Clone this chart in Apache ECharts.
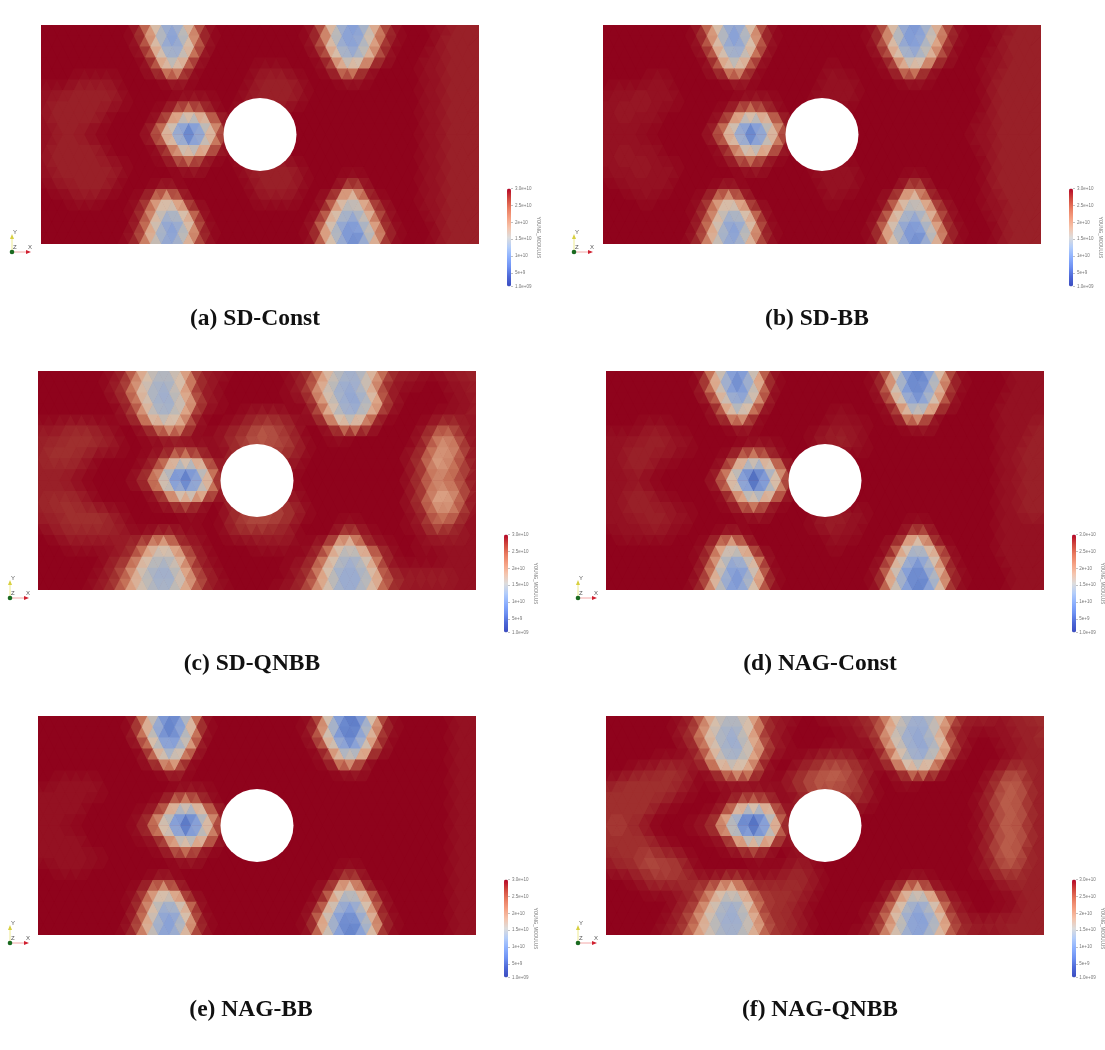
<!DOCTYPE html>
<html><head><meta charset="utf-8">
<style>html,body{margin:0;padding:0;background:#fff}#c{width:1105px;height:1050px}</style>
<script src="https://cdn.jsdelivr.net/npm/echarts@6/dist/echarts.min.js"></script></head>
<body><div id="c"></div><script>
// Young's modulus in units of 1e9, read at mesh nodes, rows top to bottom
const sdConst=[
[30,30,30,30,30,30,30,30,30,27,22,15,11,16,23,28,30,30,30,30,30,30,30,30,30,28,23,15,10,10,17,24,28,30,30,30,29,29,28,28,28],
[30,30,30,30,30,30,30,30,29,25,19,10,11,20,26,29,30,30,30,30,30,30,30,30,29,26,20,12,9,13,21,26,29,30,30,30,29,28,28,28,28],
[30,30,30,30,30,30,30,30,30,28,23,15,10,14,22,28,30,30,30,30,30,30,30,30,30,28,23,14,10,12,19,25,29,30,30,30,29,28,28,28,28],
[30,30,30,30,30,30,30,30,30,29,24,15,14,22,28,30,30,30,30,30,30,30,30,30,30,29,25,17,13,17,24,28,30,30,30,29,29,28,28,28,28],
[30,30,30,30,30,30,30,30,30,30,28,24,19,24,29,30,30,30,30,30,29,29,29,30,30,30,29,25,20,24,28,30,30,30,30,29,29,28,28,28,28],
[30,30,30,29,29,29,29,30,30,30,30,29,27,29,30,30,30,30,30,29,28,28,28,29,30,30,30,29,28,29,30,30,30,30,30,29,29,28,28,28,28],
[29,29,29,28,28,28,28,29,30,30,30,30,30,30,30,30,30,30,30,29,28,28,28,28,29,30,30,30,30,30,30,30,30,30,30,29,29,28,28,28,28],
[29,28,28,28,28,28,28,29,30,30,30,30,29,28,28,29,30,30,29,28,28,28,28,29,30,30,30,30,30,30,30,30,30,30,30,29,29,28,28,28,28],
[29,28,28,28,28,28,29,30,30,30,30,29,26,22,23,26,29,30,29,29,29,29,29,30,30,30,30,30,30,30,30,30,30,30,30,29,29,28,28,28,28],
[29,28,28,28,28,29,30,30,30,30,28,23,16,11,13,20,26,30,30,30,30,30,30,30,30,30,30,30,30,30,30,30,30,30,30,29,29,28,28,28,28],
[29,29,28,28,29,30,30,30,30,30,27,22,14,5,5,15,23,28,30,30,30,30,30,30,30,30,30,30,30,30,30,30,30,30,30,29,29,28,28,28,28],
[29,28,28,28,28,29,30,30,30,30,29,25,19,12,14,21,27,30,30,30,30,30,30,30,30,30,30,30,30,30,30,30,30,30,30,29,29,28,28,28,28],
[29,28,28,28,28,28,29,30,30,30,30,29,26,22,23,27,29,30,29,29,29,29,29,30,30,30,30,30,30,30,30,30,30,30,30,29,29,28,28,28,28],
[29,28,28,28,28,28,28,29,30,30,30,30,29,28,28,30,30,30,29,28,28,28,28,29,30,30,30,30,30,30,30,30,30,30,30,29,29,28,28,28,28],
[29,29,28,28,28,28,28,29,30,30,30,30,30,30,30,30,30,30,30,29,28,28,28,28,29,30,30,30,29,29,30,30,30,30,30,29,29,28,28,28,28],
[30,29,29,28,28,28,29,30,30,30,29,27,29,30,30,30,30,30,30,29,28,28,28,29,30,30,30,27,23,27,30,30,30,30,30,29,29,28,28,28,28],
[30,30,30,29,29,29,30,30,30,29,25,20,21,26,30,30,30,30,30,30,29,29,29,29,30,30,28,23,16,20,26,29,30,30,30,29,29,28,28,28,28],
[30,30,30,30,30,30,30,30,29,26,21,15,17,23,28,30,30,30,30,30,30,30,30,30,30,29,24,18,13,17,24,28,30,30,30,29,29,28,28,28,28],
[30,30,30,30,30,30,30,30,30,27,22,14,10,15,23,29,30,30,30,30,30,30,30,30,30,28,22,14,9,12,20,26,29,30,30,30,29,28,28,28,28],
[30,30,30,30,30,30,30,30,28,24,17,10,11,19,26,29,30,30,30,30,30,30,30,30,29,25,18,11,7,10,19,26,29,30,30,30,29,28,28,28,28],
[30,30,30,30,30,30,30,30,29,26,20,13,11,17,24,28,30,30,30,30,30,30,30,30,30,28,22,15,9,8,17,25,29,30,30,30,29,28,28,28,28]];
const sdBB=[
[30,30,30,30,30,30,30,30,30,27,22,15,10,15,23,28,30,30,30,30,30,30,30,30,30,28,23,14,9,10,17,24,28,30,30,30,29,29,28,28,28],
[30,30,30,30,30,30,30,30,29,25,19,10,10,19,26,29,30,30,30,30,30,30,30,30,29,26,20,11,8,12,20,26,29,30,30,30,29,28,28,28,28],
[30,30,30,30,30,30,30,30,30,28,23,15,10,14,22,28,30,30,30,30,30,30,30,30,30,28,23,14,9,12,19,25,29,30,30,30,29,28,28,28,28],
[30,30,30,30,30,30,30,30,30,29,24,15,14,22,28,30,30,30,30,30,30,30,30,30,30,29,25,17,13,17,24,28,30,30,30,29,29,28,28,28,28],
[30,30,30,30,30,30,30,30,30,30,28,24,19,24,29,30,30,30,30,30,30,29,30,30,30,30,29,25,20,24,28,30,30,30,30,29,29,28,28,28,28],
[30,30,30,30,29,29,30,30,30,30,30,29,27,29,30,30,30,30,30,30,29,29,29,30,30,30,30,29,28,29,30,30,30,30,30,29,28,28,28,28,28],
[30,29,29,29,29,29,29,30,30,30,30,30,30,30,30,30,30,30,30,30,29,29,29,29,30,30,30,30,30,30,30,30,30,30,30,29,28,28,28,28,28],
[29,29,29,28,29,29,29,30,30,30,30,30,29,28,28,29,30,30,30,29,29,29,29,30,30,30,30,30,30,30,30,30,30,30,30,29,28,28,28,28,28],
[29,29,28,29,29,29,30,30,30,30,30,29,26,22,23,26,29,30,30,30,30,30,30,30,30,30,30,30,30,30,30,30,30,30,30,29,28,28,28,28,28],
[29,29,29,29,29,30,30,30,30,30,28,23,16,11,13,20,26,30,30,30,30,30,30,30,30,30,30,30,30,30,30,30,30,30,29,29,28,28,28,28,28],
[29,29,29,29,30,30,30,30,30,30,27,22,14,5,5,15,23,28,30,30,30,30,30,30,30,30,30,30,30,30,30,30,30,30,29,29,28,28,28,28,28],
[29,29,29,29,29,30,30,30,30,30,29,25,19,12,14,21,27,30,30,30,30,30,30,30,30,30,30,30,30,30,30,30,30,30,29,29,28,28,28,28,28],
[29,29,28,29,29,29,30,30,30,30,30,29,26,22,23,27,29,30,30,30,30,30,30,30,30,30,30,30,30,30,30,30,30,30,30,29,28,28,28,28,28],
[29,29,29,28,29,29,29,30,30,30,30,30,29,28,28,30,30,30,30,29,29,29,29,30,30,30,30,30,30,30,30,30,30,30,30,29,28,28,28,28,28],
[30,29,29,29,29,29,29,30,30,30,30,30,30,30,30,30,30,30,30,30,29,29,29,29,30,30,30,30,29,29,30,30,30,30,30,29,28,28,28,28,28],
[30,30,29,29,29,29,30,30,30,30,29,27,29,30,30,30,30,30,30,30,29,29,29,30,30,30,30,27,23,27,30,30,30,30,30,29,28,28,28,28,28],
[30,30,30,30,29,30,30,30,30,29,25,20,21,26,30,30,30,30,30,30,30,29,30,30,30,30,28,23,16,20,26,29,30,30,30,29,29,28,28,28,28],
[30,30,30,30,30,30,30,30,29,26,21,15,17,23,28,30,30,30,30,30,30,30,30,30,30,29,24,18,13,17,24,28,30,30,30,29,29,28,28,28,28],
[30,30,30,30,30,30,30,30,30,27,22,14,10,15,23,29,30,30,30,30,30,30,30,30,30,28,22,14,9,12,20,26,29,30,30,30,29,28,28,28,28],
[30,30,30,30,30,30,30,30,28,24,17,10,11,19,26,29,30,30,30,30,30,30,30,30,29,25,18,11,7,10,19,26,29,30,30,30,29,28,28,28,28],
[30,30,30,30,30,30,30,30,29,26,20,13,11,17,24,28,30,30,30,30,30,30,30,30,30,28,22,15,9,8,17,25,29,30,30,30,29,28,28,28,28]];
const sdQNBB=[
[30,30,30,30,30,30,30,29,27,23,18,15,16,20,25,28,29,29,30,30,30,30,30,29,28,26,22,17,14,13,17,22,26,28,28,29,29,29,28,28,28],
[30,30,30,30,30,30,29,28,25,21,16,13,15,20,26,28,29,30,30,30,30,30,30,29,27,24,19,14,12,14,20,25,28,29,29,30,30,29,29,28,28],
[30,30,30,30,30,30,30,28,26,21,15,12,14,20,25,28,29,30,30,30,30,30,30,29,28,25,19,14,11,12,17,24,28,29,30,30,30,30,29,29,28],
[30,30,30,30,30,30,30,29,27,23,16,12,13,18,24,28,29,30,30,30,30,30,30,30,29,26,21,15,11,11,16,24,28,30,30,30,30,30,29,29,28],
[30,30,30,30,30,30,30,30,28,25,19,14,15,20,26,29,30,30,30,29,28,28,28,29,30,28,24,18,13,14,20,26,29,30,30,30,30,29,29,29,28],
[29,29,28,28,28,29,29,30,30,28,25,21,20,23,28,30,30,29,28,27,26,26,27,28,30,30,28,24,21,23,27,30,30,30,30,29,27,26,27,29,29],
[28,28,28,27,27,27,28,29,30,30,29,28,27,28,30,30,29,28,27,26,25,25,26,27,29,30,30,29,29,30,30,30,30,30,30,28,25,23,25,28,29],
[28,27,27,27,27,28,28,29,30,30,30,30,29,28,28,29,30,28,27,26,26,26,26,27,29,30,30,30,30,30,30,30,30,30,29,27,23,22,24,28,29],
[28,27,27,27,28,29,30,30,30,30,29,27,24,21,23,26,29,29,27,27,27,27,27,28,29,30,30,30,30,30,30,30,30,30,28,26,22,22,24,27,29],
[28,28,28,28,29,30,30,30,30,29,27,22,14,10,12,21,27,29,29,29,29,29,29,29,30,30,30,30,30,30,30,30,30,30,28,26,22,23,25,27,29],
[28,28,28,29,30,30,30,30,30,28,25,20,9,4,5,14,24,29,30,30,30,30,30,30,30,30,30,30,30,30,30,30,30,30,28,26,23,24,25,27,29],
[28,28,28,28,29,30,30,30,30,30,28,24,17,13,14,21,27,29,29,29,29,29,29,29,30,30,30,30,30,30,30,30,30,30,28,26,22,22,24,27,29],
[28,27,27,27,28,29,30,30,30,30,30,29,27,24,25,28,30,29,27,27,26,27,27,28,29,30,30,30,30,30,30,30,30,30,28,26,22,21,23,27,29],
[28,28,27,27,27,27,28,29,30,30,30,30,30,29,29,30,30,28,27,26,26,26,26,27,29,30,30,30,30,30,30,30,30,30,29,27,24,23,25,28,29],
[29,28,28,27,27,27,27,28,29,30,30,30,30,30,30,30,30,29,27,26,26,26,27,28,30,30,30,30,29,29,30,30,30,30,29,28,25,25,27,29,29],
[30,29,28,28,28,28,28,28,29,29,28,26,27,29,29,30,30,29,28,28,28,28,28,29,30,30,30,27,24,27,29,30,30,30,30,29,28,28,28,29,29],
[30,30,30,29,29,29,29,29,28,26,23,19,21,26,28,29,30,30,30,30,29,29,29,29,30,29,27,22,17,20,26,28,29,30,30,29,29,29,29,29,29],
[30,30,30,30,30,30,29,28,27,23,18,15,17,23,27,29,30,30,30,30,30,30,30,30,29,27,23,17,13,15,21,26,29,30,30,30,30,29,29,29,29],
[30,30,30,30,30,30,29,27,25,20,15,13,14,20,25,28,29,30,30,30,30,30,30,29,28,26,21,15,12,13,17,24,28,29,29,29,29,29,29,29,29],
[30,30,30,30,30,29,28,26,23,18,14,12,13,19,24,27,29,30,30,30,30,30,30,29,27,24,19,13,11,12,16,23,26,28,28,28,28,28,29,29,29],
[30,30,30,30,30,29,28,26,23,19,16,14,15,20,24,27,29,29,30,30,30,30,29,28,27,24,20,15,12,13,18,23,27,28,29,29,29,29,29,29,29]];
const nagConst=[
[30,30,30,30,30,30,30,30,30,27,21,13,8,12,22,28,30,30,30,30,30,30,30,30,30,28,22,12,7,7,15,23,29,30,30,30,30,29,29,29,29],
[30,30,30,30,30,30,30,30,29,24,17,8,8,17,25,29,30,30,30,30,30,30,30,30,29,26,19,9,6,9,19,26,29,30,30,30,30,29,29,29,29],
[30,30,30,30,30,30,30,30,30,27,22,13,8,12,21,28,30,30,30,30,30,30,30,30,30,28,22,12,7,9,17,25,29,30,30,30,30,29,29,29,29],
[30,30,30,30,30,30,30,30,30,29,24,15,12,20,27,30,30,30,30,30,30,30,30,30,30,29,25,16,9,14,23,28,30,30,30,30,29,29,29,29,29],
[30,30,30,30,30,30,30,30,30,30,28,24,18,23,29,30,30,30,30,30,30,29,29,30,30,30,29,25,18,22,28,30,30,30,30,30,29,29,29,29,29],
[30,30,30,29,29,29,30,30,30,30,30,29,27,29,30,30,30,30,30,30,29,29,29,29,30,30,30,29,28,28,30,30,30,30,30,30,29,29,29,28,28],
[29,29,29,29,28,28,29,29,30,30,30,30,30,30,30,30,30,30,30,29,28,28,28,29,30,30,30,30,30,30,30,30,30,30,30,30,29,29,29,28,28],
[29,29,28,28,28,28,29,29,30,30,30,30,29,28,28,29,30,30,30,29,29,28,29,29,30,30,30,30,30,30,30,30,30,30,30,30,29,29,28,28,28],
[29,29,28,28,28,29,29,30,30,30,30,29,25,21,22,26,29,30,30,30,30,30,30,30,30,30,30,30,30,30,30,30,30,30,30,30,29,29,28,28,28],
[29,29,28,28,29,30,30,30,30,30,28,22,14,8,11,19,26,30,30,30,30,30,30,30,30,30,30,30,30,30,30,30,30,30,30,30,29,29,28,28,28],
[29,29,29,29,30,30,30,30,30,30,27,21,12,3,3,13,23,28,30,30,30,30,30,30,30,30,30,30,30,30,30,30,30,30,30,30,29,29,28,28,28],
[29,29,28,28,29,30,30,30,30,30,29,24,17,10,12,20,27,30,30,30,30,30,30,30,30,30,30,30,30,30,30,30,30,30,30,30,29,29,28,28,28],
[29,29,28,28,28,29,29,30,30,30,30,29,26,21,22,27,29,30,30,30,30,30,30,30,30,30,30,30,30,30,30,30,30,30,30,30,29,29,28,28,28],
[29,29,28,28,28,28,29,29,30,30,30,30,29,28,28,30,30,30,30,29,29,28,29,29,30,30,30,30,30,30,30,30,30,30,30,30,29,29,28,28,28],
[29,29,29,29,28,28,29,29,30,30,30,30,30,30,30,30,30,30,30,29,28,28,29,29,30,30,30,30,29,29,30,30,30,30,30,30,29,29,29,29,29],
[30,29,29,29,29,29,30,30,30,30,29,27,29,30,30,30,30,30,30,30,29,29,29,30,30,30,30,27,23,26,30,30,30,30,30,30,29,29,29,29,29],
[30,30,30,30,30,30,30,30,30,29,25,19,20,26,30,30,30,30,30,30,30,29,30,30,30,30,28,23,15,18,25,29,30,30,30,30,29,29,29,29,29],
[30,30,30,30,30,30,30,30,29,26,20,13,15,22,28,30,30,30,30,30,30,30,30,30,30,29,24,16,10,14,22,28,30,30,30,30,29,29,29,29,29],
[30,30,30,30,30,30,30,30,30,27,21,12,9,13,22,29,30,30,30,30,30,30,30,30,30,28,22,13,7,9,18,26,29,30,30,30,30,29,29,29,29],
[30,30,30,30,30,30,30,30,28,24,16,9,9,17,25,29,30,30,30,30,30,30,30,30,29,25,17,9,6,8,17,26,29,30,30,30,30,29,29,29,29],
[30,30,30,30,30,30,30,30,29,26,19,11,9,15,23,28,30,30,30,30,30,30,30,30,30,28,21,13,7,7,15,25,29,30,30,30,30,29,29,29,29]];
const nagBB=[
[30,30,30,30,30,30,30,30,30,27,21,12,7,9,20,28,30,30,30,30,30,30,30,30,30,29,23,12,7,6,14,23,29,30,30,30,30,30,29,29,29],
[30,30,30,30,30,30,30,30,29,24,16,7,6,14,24,29,30,30,30,30,30,30,30,30,29,26,19,9,5,7,18,26,29,30,30,30,30,30,29,29,29],
[30,30,30,30,30,30,30,30,30,27,21,11,7,11,20,28,30,30,30,30,30,30,30,30,30,28,22,12,6,8,17,25,29,30,30,30,30,30,29,29,29],
[30,30,30,30,30,30,30,30,30,29,23,13,11,19,27,30,30,30,30,30,30,30,30,30,30,29,25,16,9,13,23,28,30,30,30,30,30,30,29,29,29],
[30,30,30,30,30,30,30,30,30,30,28,23,17,23,29,30,30,30,30,30,30,30,30,30,30,30,29,25,18,22,28,30,30,30,30,30,30,30,29,29,29],
[30,30,30,30,30,30,30,30,30,30,30,29,26,29,30,30,30,30,30,30,30,30,30,30,30,30,30,29,28,28,30,30,30,30,30,30,30,30,29,29,29],
[30,30,29,29,29,29,30,30,30,30,30,30,30,30,30,30,30,30,30,30,30,30,30,30,30,30,30,30,30,30,30,30,30,30,30,30,30,30,29,29,29],
[29,29,29,29,29,29,30,30,30,30,30,30,29,28,28,29,30,30,30,30,30,30,30,30,30,30,30,30,30,30,30,30,30,30,30,30,30,30,29,29,29],
[29,29,29,29,29,30,30,30,30,30,30,29,25,21,22,26,29,30,30,30,30,30,30,30,30,30,30,30,30,30,30,30,30,30,30,30,30,30,29,29,29],
[29,29,29,29,30,30,30,30,30,29,27,22,14,9,11,20,26,30,30,30,30,30,30,30,30,30,30,30,30,30,30,30,30,30,30,30,30,30,29,29,29],
[29,29,29,30,30,30,30,30,30,29,26,20,11,4,4,14,23,28,30,30,30,30,30,30,30,30,30,30,30,30,30,30,30,30,30,30,30,30,29,29,29],
[29,29,29,29,30,30,30,30,30,29,28,24,17,11,13,20,27,30,30,30,30,30,30,30,30,30,30,30,30,30,30,30,30,30,30,30,30,30,29,29,29],
[29,29,29,29,29,30,30,30,30,30,30,29,26,22,23,27,29,30,30,30,30,30,30,30,30,30,30,30,30,30,30,30,30,30,30,30,30,30,29,29,29],
[29,29,29,29,29,29,30,30,30,30,30,30,29,28,28,30,30,30,30,30,30,30,30,30,30,30,30,30,30,30,30,30,30,30,30,30,30,30,29,29,29],
[30,30,29,29,29,30,30,30,30,30,30,30,30,30,30,30,30,30,30,30,30,30,30,30,30,30,30,30,29,29,30,30,30,30,30,30,30,30,29,29,29],
[30,30,30,30,30,30,30,30,30,30,29,27,29,30,30,30,30,30,30,30,30,30,30,30,30,30,30,27,24,27,30,30,30,30,30,30,30,30,29,29,29],
[30,30,30,30,30,30,30,30,30,29,25,20,21,26,30,30,30,30,30,30,30,30,30,30,30,30,28,23,16,19,25,29,30,30,30,30,30,30,29,29,29],
[30,30,30,30,30,30,30,30,29,26,21,14,16,23,28,30,30,30,30,30,30,30,30,30,30,29,24,16,11,15,22,28,30,30,30,30,30,30,29,29,29],
[30,30,30,30,30,30,30,30,30,27,22,13,10,14,23,29,30,30,30,30,30,30,30,30,30,28,22,13,8,10,18,26,29,30,30,30,30,30,29,29,29],
[30,30,30,30,30,30,30,30,28,24,17,10,10,18,26,29,30,30,30,30,30,30,30,30,29,25,17,9,6,8,17,26,29,30,30,30,30,30,29,29,29],
[30,30,30,30,30,30,30,30,29,26,20,12,10,16,24,28,30,30,30,30,30,30,30,30,30,28,21,13,7,7,15,25,29,30,30,30,30,30,29,29,29]];
const nagQNBB=[
[30,30,30,30,30,30,30,29,27,23,18,15,16,20,25,28,29,29,30,30,29,29,29,28,27,25,21,16,13,13,17,22,26,28,28,28,29,28,28,27,27],
[30,30,30,30,30,30,29,28,25,21,16,13,15,20,26,28,29,30,30,30,30,29,29,28,27,24,19,14,11,13,19,25,28,29,29,29,29,28,28,28,27],
[30,30,30,30,30,30,30,28,26,21,15,12,13,20,25,28,29,30,30,30,30,30,30,29,28,25,19,13,11,12,17,24,28,29,30,30,29,29,28,28,27],
[30,30,30,30,30,30,30,29,27,23,16,12,13,18,24,28,29,30,30,30,29,29,29,30,29,26,21,15,11,11,16,24,28,30,30,30,29,29,28,28,28],
[30,30,30,30,30,29,29,29,28,25,19,14,15,20,26,29,30,30,29,28,27,27,27,28,30,28,24,18,13,14,20,26,29,30,30,30,30,29,28,28,28],
[30,30,29,28,28,27,27,28,30,28,25,21,20,23,28,30,30,28,27,26,25,25,26,27,29,30,28,24,21,23,27,30,30,30,30,29,27,26,27,28,28],
[29,28,27,27,27,27,27,28,29,30,29,28,28,29,30,30,29,27,26,25,25,25,26,27,29,30,30,29,29,30,30,30,30,30,30,28,26,25,26,28,28],
[27,27,27,27,27,27,28,29,30,30,30,30,29,28,28,29,30,28,27,26,26,26,26,27,29,30,30,30,30,30,30,30,30,30,29,27,25,25,26,28,28],
[27,27,27,27,27,28,29,30,30,30,30,28,25,23,24,26,29,29,28,28,28,28,28,28,29,30,30,30,30,30,30,30,30,30,29,27,25,25,26,28,28],
[27,27,27,27,29,30,30,30,30,29,27,21,12,8,11,22,28,29,29,29,29,29,29,30,30,30,30,30,30,30,30,30,30,30,29,27,25,25,26,28,28],
[27,26,27,28,30,30,30,30,29,28,25,17,7,3,4,14,25,29,30,30,30,30,30,30,30,30,30,30,30,30,30,30,30,30,29,27,25,25,26,28,28],
[27,27,27,27,29,30,30,30,30,29,28,23,15,10,12,22,28,29,29,30,30,30,30,30,30,30,30,30,30,30,30,30,30,30,29,27,25,25,26,28,28],
[27,27,27,27,27,28,29,30,30,30,30,29,27,24,25,28,30,29,29,30,30,30,30,30,30,30,30,30,30,30,30,30,30,30,29,27,25,25,26,28,28],
[28,27,27,26,26,27,27,29,30,30,30,30,30,29,29,30,30,29,29,30,30,30,30,30,30,30,30,30,30,30,30,30,30,30,29,27,25,25,27,28,28],
[29,28,28,27,26,26,26,27,29,30,30,30,30,30,30,30,29,28,28,29,30,30,30,30,30,30,30,30,30,30,30,30,30,30,29,28,26,26,27,28,28],
[30,30,29,28,27,27,27,27,28,28,27,25,26,28,28,28,28,27,28,29,30,30,30,30,30,30,30,29,28,29,30,30,30,30,30,29,28,27,28,28,28],
[30,30,30,30,29,29,29,28,27,25,22,18,20,25,27,27,27,27,28,29,30,30,30,30,30,30,28,24,19,21,27,29,30,30,30,30,29,29,28,28,28],
[30,30,30,30,30,30,29,28,26,22,16,13,15,22,26,27,27,28,29,30,30,30,30,30,30,28,24,17,12,15,22,27,29,30,30,30,30,29,28,28,28],
[30,30,30,30,30,30,29,27,25,20,15,12,13,19,25,27,27,28,29,30,30,30,30,30,29,27,22,15,10,11,17,25,28,29,30,30,29,29,28,28,28],
[30,30,30,30,30,29,28,26,23,18,14,12,13,18,24,27,27,28,29,30,30,30,30,30,28,25,20,13,9,10,16,24,27,28,28,28,28,28,28,28,28],
[30,30,30,30,30,29,28,26,23,19,15,13,14,19,24,26,27,28,29,30,30,30,30,29,28,25,20,14,10,12,18,24,27,28,29,29,29,28,28,28,28]];

const panelValues=[sdConst,sdBB,sdQNBB,nagConst,nagBB,nagQNBB];
const panelTitles=['(a) SD-Const','(b) SD-BB','(c) SD-QNBB','(d) NAG-Const','(e) NAG-BB','(f) NAG-QNBB'];
const tickValues=[1,5,10,15,20,25,30];
const tickLabels=['1.0e+09','5e+9','1e+10','1.5e+10','2e+10','2.5e+10','3.0e+10'];
const fieldName='YOUNG_MODULUS';
const holeCentre=[20,10];

const layout=[
 {x:41,y:25,cap:255,capY:307,triad:12},
 {x:603,y:25,cap:817,capY:307,triad:574},
 {x:38,y:371,cap:252,capY:652,triad:10},
 {x:606,y:371,cap:820,capY:652,triad:578},
 {x:38,y:716,cap:251,capY:998,triad:10},
 {x:606,y:716,cap:820,capY:998,triad:578}];
const PW=438,PH=219,CELL_X=40,CELL_Y=20;
const barStops=['#3b4cc0','#4d68d7','#6f92f3','#8db0fe','#b3cdfa','#dddcdc','#f5c4ac','#f5a082','#e97a5f','#d0473d','#b40426'];
const panelStops=['#3246aa','#4b69be','#6987cd','#87a0d7','#a0afcd','#b9b9b9','#d7beaa','#dca587','#c36e55','#9e2d2d','#8f031c'];

function nodes(row,j){
  if(j%2===0) return row.map((v,i)=>[i,j,v]);
  const L=row.length-1;
  return [[0,j,row[0]],...row.slice(0,L).map((v,i)=>[i+.5,j,v]),[L,j,row[L]]];
}
function triangles(m){
  const out=[];
  for(let j=0;j<m.length-1;j++){
    const A=nodes(m[j],j),B=nodes(m[j+1],j+1);let a=0,b=0;
    while(a<A.length-1||b<B.length-1){
      const stepA=b>=B.length-1||(a<A.length-1&&A[a+1][0]<=B[b+1][0]);
      const next=stepA?A[a+1]:B[b+1],p=A[a],q=B[b];
      out.push([p[0],p[1],q[0],q[1],next[0],next[1],(p[2]+q[2]+next[2])/3]);
      if(stepA)a++;else b++;
    }
  }
  return out;
}
const renderTri=(params,api)=>{
  const pts=[0,2,4].map(k=>api.coord([api.value(k),api.value(k+1)]));
  const cx=(pts[0][0]+pts[1][0]+pts[2][0])/3,cy=(pts[0][1]+pts[1][1]+pts[2][1])/3;
  const grown=pts.map(p=>{const dx=p[0]-cx,dy=p[1]-cy,d=Math.hypot(dx,dy)||1;return [p[0]+dx/d*.6,p[1]+dy/d*.6];});
  return {type:'polygon',shape:{points:grown},style:{fill:api.visual('color')}};
};
const option={animation:false,backgroundColor:'#fff',title:[],grid:[],xAxis:[],yAxis:[],series:[],visualMap:[],graphic:[]};
layout.forEach((L,k)=>{
  const barX=L.x+466,barY=L.y+163.5;
  option.title.push({text:panelTitles[k],left:L.cap,top:L.capY,textAlign:'center',padding:0,
    textStyle:{fontFamily:'Liberation Serif',fontWeight:'bold',fontSize:23.5,color:'#111'}});
  const g=option.grid.length;
  option.grid.push({left:L.x,top:L.y,width:PW,height:PH,show:true,borderWidth:0,backgroundColor:panelStops[10]});
  option.xAxis.push({gridIndex:g,type:'value',min:0,max:CELL_X,show:false});
  option.yAxis.push({gridIndex:g,type:'value',min:0,max:CELL_Y,inverse:true,show:false});
  const sMesh=option.series.length;
  option.series.push({type:'custom',xAxisIndex:g,yAxisIndex:g,data:triangles(panelValues[k]),renderItem:renderTri,silent:true,
    encode:{x:[0,2,4],y:[1,3,5]},clip:true,progressive:0});
  option.series.push({type:'scatter',xAxisIndex:g,yAxisIndex:g,data:[holeCentre],symbol:'circle',symbolSize:73,silent:true,z:5,
    itemStyle:{color:'#ffffff',opacity:1}});
  option.visualMap.push({show:false,type:'continuous',seriesIndex:sMesh,dimension:6,min:1,max:30,inRange:{color:panelStops}});
  const h=option.grid.length;
  option.grid.push({left:barX+4,top:barY,width:1,height:98,show:false});
  option.xAxis.push({gridIndex:h,type:'value',min:0,max:1,show:false});
  option.yAxis.push({gridIndex:h,type:'value',min:1,max:30,position:'right',
    name:fieldName,nameLocation:'middle',nameRotate:-90,nameGap:17,nameTextStyle:{fontSize:4.5,color:'#777',fontFamily:'Liberation Sans'},
    axisLine:{show:false},splitLine:{show:false},
    axisTick:{show:true,length:2,customValues:tickValues,lineStyle:{color:'#999',width:.6}},
    axisLabel:{show:true,margin:3,fontSize:4.5,color:'#777',fontFamily:'Liberation Sans',customValues:tickValues,
      formatter:v=>tickLabels[tickValues.indexOf(v)]}});
  const sBar=option.series.length;
  option.series.push({type:'scatter',xAxisIndex:h,yAxisIndex:h,data:[],silent:true});
  option.visualMap.push({show:true,type:'continuous',seriesIndex:sBar,min:1,max:30,left:barX,top:barY,itemWidth:4,itemHeight:98,
    padding:0,text:null,showLabel:false,calculable:false,realtime:false,inRange:{color:barStops},textStyle:{fontSize:1,color:'rgba(0,0,0,0)'}});
  const ox=L.triad,oy=L.y+227;
  option.graphic.push(
    {type:'line',silent:true,shape:{x1:ox,y1:oy,x2:ox,y2:oy-15},style:{stroke:'#eeea90',lineWidth:1}},
    {type:'polygon',silent:true,shape:{points:[[ox-2,oy-13],[ox+2,oy-13],[ox,oy-18]]},style:{fill:'#d8d040'}},
    {type:'line',silent:true,shape:{x1:ox,y1:oy,x2:ox+16,y2:oy},style:{stroke:'#f4a8a8',lineWidth:1}},
    {type:'polygon',silent:true,shape:{points:[[ox+14,oy-2],[ox+14,oy+2],[ox+19,oy]]},style:{fill:'#d02030'}},
    {type:'circle',silent:true,shape:{cx:ox,cy:oy,r:2.3},style:{fill:'#1a6a20'}},
    {type:'text',silent:true,style:{x:ox+1,y:oy-23,text:'Y',font:'6px Liberation Sans',fill:'#555'}},
    {type:'text',silent:true,style:{x:ox+1,y:oy-8,text:'Z',font:'6px Liberation Sans',fill:'#555'}},
    {type:'text',silent:true,style:{x:ox+16,y:oy-8,text:'X',font:'6px Liberation Sans',fill:'#555'}});
});
echarts.init(document.getElementById('c'),null,{renderer:'canvas'}).setOption(option);
</script></body></html>
